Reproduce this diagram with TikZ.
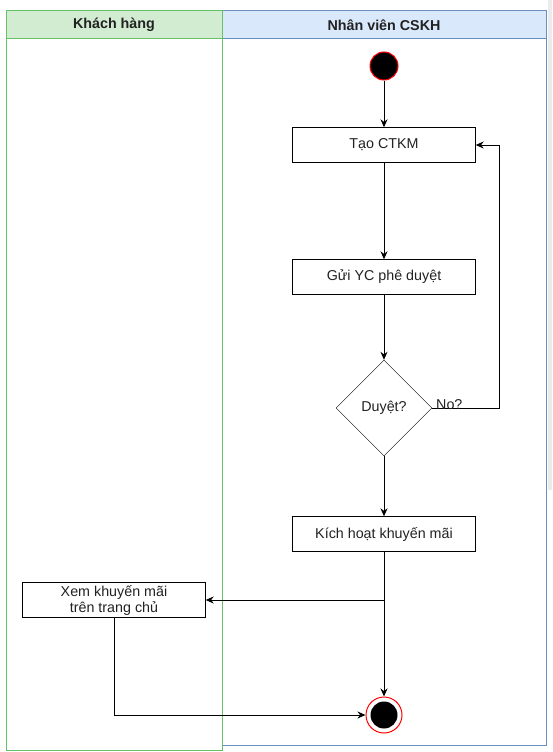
\documentclass[tikz,border=0pt]{standalone}
\usepackage{fontspec}
\setmainfont{Liberation Sans}
\usetikzlibrary{arrows.meta,shapes.geometric}
\definecolor{gfill}{HTML}{D2ECD2}
\definecolor{gline}{HTML}{66C166}
\definecolor{bfill}{HTML}{DAE8FC}
\definecolor{bline}{HTML}{6C8EBF}
\definecolor{txt}{HTML}{222222}
\begin{document}
\begin{tikzpicture}[x=1pt,y=-1pt,
  actbox/.style={draw=black,fill=white,minimum width=183pt,minimum height=35pt,inner sep=0pt,align=center,font=\fontsize{14.3}{16}\selectfont,text=txt},
  decis/.style={draw=black,fill=white,diamond,minimum width=96pt,minimum height=96pt,inner sep=0pt,font=\fontsize{14.3}{16}\selectfont,text=txt,aspect=1},
  flow/.style={draw=black,line width=1pt,-{Stealth[length=8pt,width=7pt]}},
  hdr/.style={font=\bfseries\fontsize{14.3}{16}\selectfont,text=txt}]
\useasboundingbox (0,0) rectangle (552,752);
\fill[white] (0,0) rectangle (552,752);
\fill[black!8] (548,0) rectangle (552,490);
% lanes
\draw[bline,line width=1pt,fill=white] (222,11) rectangle (546,745);
\draw[bline,line width=1pt,fill=bfill] (222,11) rectangle (546,39);
\draw[gline,line width=1pt,fill=white] (6,11) rectangle (222,750);
\draw[gline,line width=1pt,fill=gfill] (6,11) rectangle (222,39);
\node[hdr] (h1) at (114,25) {Khách hàng};
\node[hdr] (h2) at (384,25) {Nhân viên CSKH};
% nodes
\node[circle,fill=black,draw=red,line width=1pt,minimum size=28pt,inner sep=0pt] (start) at (384,66) {};
\node[actbox] (tao) at (384,145) {Tạo CTKM};
\node[actbox] (gui) at (384,277) {Gửi YC phê duyệt};
\node[decis] (duyet) at (384,408) {Duyệt?};
\node[actbox] (kich) at (384,534) {Kích hoạt khuyến mãi};
\node[actbox] (xem) at (114,600) {Xem khuyến mãi\\trên trang chủ};
\node[circle,draw=red,fill=white,line width=1pt,minimum size=36pt,inner sep=0pt] (end) at (384,715) {};
\node[circle,fill=black,minimum size=27pt,inner sep=0pt] (endin) at (384,715) {};
\coordinate (nr) at (499,408);
\coordinate (nt) at (499,145);
\coordinate (br) at (384,600);
\coordinate (xb) at (114,715);
% connectors
\draw[flow] (start) -- (tao);
\draw[flow] (tao) -- (gui);
\draw[flow] (gui) -- (duyet);
\draw[flow] (duyet) -- (kich);
\draw[flow] (duyet.east) -- (nr) -- (nt) -- (tao.east);
\node[font=\fontsize{14.3}{16}\selectfont,text=txt,anchor=south west,inner sep=1pt] (no) at (435,411) {No?};
\draw[flow] (kich) -- (end);
\draw[flow] (br) -- (xem.east);
\draw[flow] (xem.south) -- (xb) -- (end.west);
\end{tikzpicture}
\end{document}
